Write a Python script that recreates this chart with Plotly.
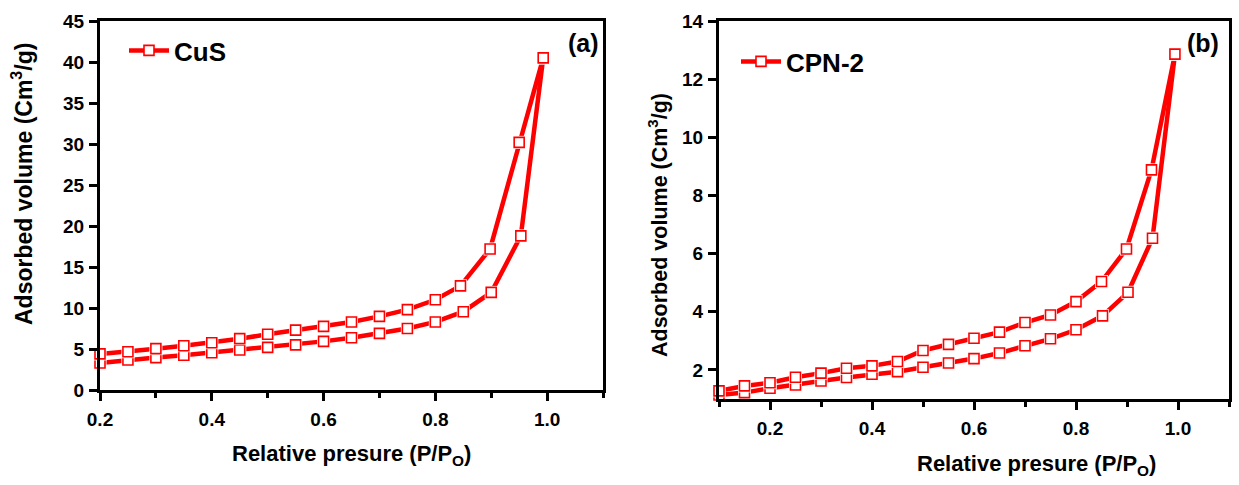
import plotly.graph_objects as go

# ---------------- data ----------------
# Panel (a) CuS
cus_ads_x = [0.20, 0.25, 0.30, 0.35, 0.40, 0.45, 0.50, 0.55, 0.60, 0.65, 0.70, 0.75, 0.80, 0.85, 0.90, 0.953, 0.993]
cus_ads_y = [3.3, 3.66, 3.95, 4.23, 4.55, 4.88, 5.2, 5.5, 5.93, 6.38, 6.9, 7.5, 8.3, 9.55, 11.9, 18.8, 40.5]
cus_des_x = [0.20, 0.25, 0.30, 0.35, 0.40, 0.45, 0.50, 0.55, 0.60, 0.65, 0.70, 0.75, 0.80, 0.845, 0.898, 0.95, 0.993]
cus_des_y = [4.4, 4.67, 5.04, 5.4, 5.77, 6.26, 6.79, 7.3, 7.76, 8.3, 8.98, 9.8, 11.0, 12.7, 17.2, 30.2, 40.5]

# Panel (b) CPN-2
cpn_ads_x = [0.10, 0.15, 0.20, 0.25, 0.30, 0.35, 0.40, 0.45, 0.50, 0.55, 0.60, 0.65, 0.70, 0.75, 0.80, 0.852, 0.902, 0.95, 0.994]
cpn_ads_y = [1.14, 1.22, 1.37, 1.48, 1.62, 1.74, 1.85, 1.94, 2.09, 2.24, 2.39, 2.58, 2.83, 3.07, 3.38, 3.86, 4.67, 6.53, 12.86]
cpn_des_x = [0.10, 0.15, 0.20, 0.25, 0.30, 0.35, 0.40, 0.45, 0.50, 0.55, 0.60, 0.65, 0.70, 0.75, 0.80, 0.85, 0.899, 0.948, 0.994]
cpn_des_y = [1.28, 1.45, 1.56, 1.75, 1.89, 2.06, 2.14, 2.29, 2.67, 2.88, 3.09, 3.3, 3.63, 3.89, 4.35, 5.04, 6.16, 8.88, 12.86]

# axis ticks
a_yticks = [0, 5, 10, 15, 20, 25, 30, 35, 40, 45]
b_yticks = [2, 4, 6, 8, 10, 12, 14]
x_ticks = [0.2, 0.4, 0.6, 0.8, 1.0]
x_ticklabels = ["0.2", "0.4", "0.6", "0.8", "1.0"]

RED = "#ff0000"
FONT = "Liberation Sans, Arial, sans-serif"
W, H = 1239, 485

fig = go.Figure()


def add_series(x, y, xa, ya):
    fig.add_trace(go.Scatter(x=x, y=y, mode="lines", xaxis=xa, yaxis=ya,
                             line=dict(color=RED, width=4.5), showlegend=False,
                             hoverinfo="skip", cliponaxis=False))


def add_markers(x, y, xa, ya):
    # white halo leaves a small gap between line and marker
    fig.add_trace(go.Scatter(x=x, y=y, mode="markers", xaxis=xa, yaxis=ya,
                             marker=dict(symbol="square", size=13, color="white",
                                         line=dict(width=0)),
                             showlegend=False, hoverinfo="skip", cliponaxis=False))
    fig.add_trace(go.Scatter(x=x, y=y, mode="markers", xaxis=xa, yaxis=ya,
                             marker=dict(symbol="square", size=10, color="white",
                                         line=dict(color=RED, width=1.6)),
                             showlegend=False, cliponaxis=False))


add_series(cus_ads_x, cus_ads_y, "x", "y")
add_series(cus_des_x, cus_des_y, "x", "y")
add_markers(cus_ads_x, cus_ads_y, "x", "y")
add_markers(cus_des_x, cus_des_y, "x", "y")

add_series(cpn_ads_x, cpn_ads_y, "x2", "y2")
add_series(cpn_des_x, cpn_des_y, "x2", "y2")
add_markers(cpn_ads_x, cpn_ads_y, "x2", "y2")
add_markers(cpn_des_x, cpn_des_y, "x2", "y2")

legend_marker = dict(symbol="square", size=10, color="white", line=dict(color=RED, width=1.6))
fig.add_trace(go.Scatter(x=[None], y=[None], mode="lines+markers", name="<b>CuS</b>",
                         xaxis="x", yaxis="y", legend="legend",
                         line=dict(color=RED, width=4.5), marker=legend_marker))
fig.add_trace(go.Scatter(x=[None], y=[None], mode="lines+markers", name="<b>CPN-2</b>",
                         xaxis="x2", yaxis="y2", legend="legend2",
                         line=dict(color=RED, width=4.5), marker=legend_marker))

tickfont = dict(family=FONT, size=19, color="black")


def bold(lst):
    return ["<b>%s</b>" % s for s in lst]


def xaxis_cfg(domain, rng, anchor):
    return dict(domain=domain, range=rng, anchor=anchor, automargin=False,
                showline=True, linecolor="black", linewidth=3, mirror=True,
                ticks="outside", ticklen=8, tickwidth=3, tickcolor="black",
                tickvals=x_ticks, ticktext=bold(x_ticklabels),
                minor=dict(ticks="outside", ticklen=5, tickwidth=2.5, tickcolor="black",
                           dtick=0.1, tick0=0.1),
                showgrid=False, zeroline=False, tickfont=tickfont,
                ticklabelstandoff=2, fixedrange=True)


def yaxis_cfg(domain, rng, anchor, vals):
    return dict(domain=domain, range=rng, anchor=anchor, automargin=False,
                showline=True, linecolor="black", linewidth=3, mirror=True,
                ticks="outside", ticklen=8, tickwidth=3, tickcolor="black",
                tickvals=vals, ticktext=bold([str(v) for v in vals]),
                showgrid=False, zeroline=False, tickfont=tickfont,
                ticklabelstandoff=1, fixedrange=True)


legend_font = dict(family=FONT, size=26, color="black")

fig.update_layout(
    width=W, height=H,
    margin=dict(l=0, r=0, t=0, b=0, pad=0, autoexpand=False),
    paper_bgcolor="white", plot_bgcolor="white",
    font=dict(family=FONT, color="black"),
    xaxis=xaxis_cfg([100 / W, 603 / W], [0.2, 1.1], "y"),
    yaxis=yaxis_cfg([(H - 390) / H, (H - 21) / H], [0, 45], "x", a_yticks),
    xaxis2=xaxis_cfg([719 / W, 1229 / W], [0.1, 1.1], "y2"),
    yaxis2=yaxis_cfg([(H - 399) / H, (H - 21) / H], [1, 14], "x2", b_yticks),
    legend=dict(x=124 / W, y=(H - 27) / H, xanchor="left", yanchor="top",
                itemwidth=40, bgcolor="rgba(0,0,0,0)", font=legend_font),
    legend2=dict(x=736 / W, y=(H - 38) / H, xanchor="left", yanchor="top",
                 itemwidth=40, bgcolor="rgba(0,0,0,0)", font=legend_font),
    showlegend=True,
)

ann = [
    dict(text="<b>Adsorbed volume (Cm<sup>3</sup>/g)</b>", x=22 / W, y=(H - 184) / H,
         textangle=-90, size=23),
    dict(text="<b>Relative presure (P/P<sub>O</sub>)</b>", x=351 / W, y=(H - 455) / H, size=22),
    dict(text="<b>Adsorbed volume (Cm<sup>3</sup>/g)</b>", x=658 / W, y=(H - 225) / H,
         textangle=-90, size=21.5),
    dict(text="<b>Relative presure (P/P<sub>O</sub>)</b>", x=1036 / W, y=(H - 465) / H, size=22),
]
for a in ann:
    size = a.pop("size")
    fig.add_annotation(xref="paper", yref="paper", showarrow=False,
                       xanchor="center", yanchor="middle",
                       font=dict(family=FONT, size=size, color="black"), **a)

panel_font = dict(family=FONT, size=25, color="black")
fig.add_annotation(xref="paper", yref="paper", x=583 / W, y=(H - 43) / H, text="<b>(a)</b>",
                   showarrow=False, font=panel_font, xanchor="center", yanchor="middle")
fig.add_annotation(xref="paper", yref="paper", x=1203 / W, y=(H - 43) / H, text="<b>(b)</b>",
                   showarrow=False, font=panel_font, xanchor="center", yanchor="middle")

fig.write_html("out.html", config={"displayModeBar": False},
               post_script="document.body.style.margin='0px';")
